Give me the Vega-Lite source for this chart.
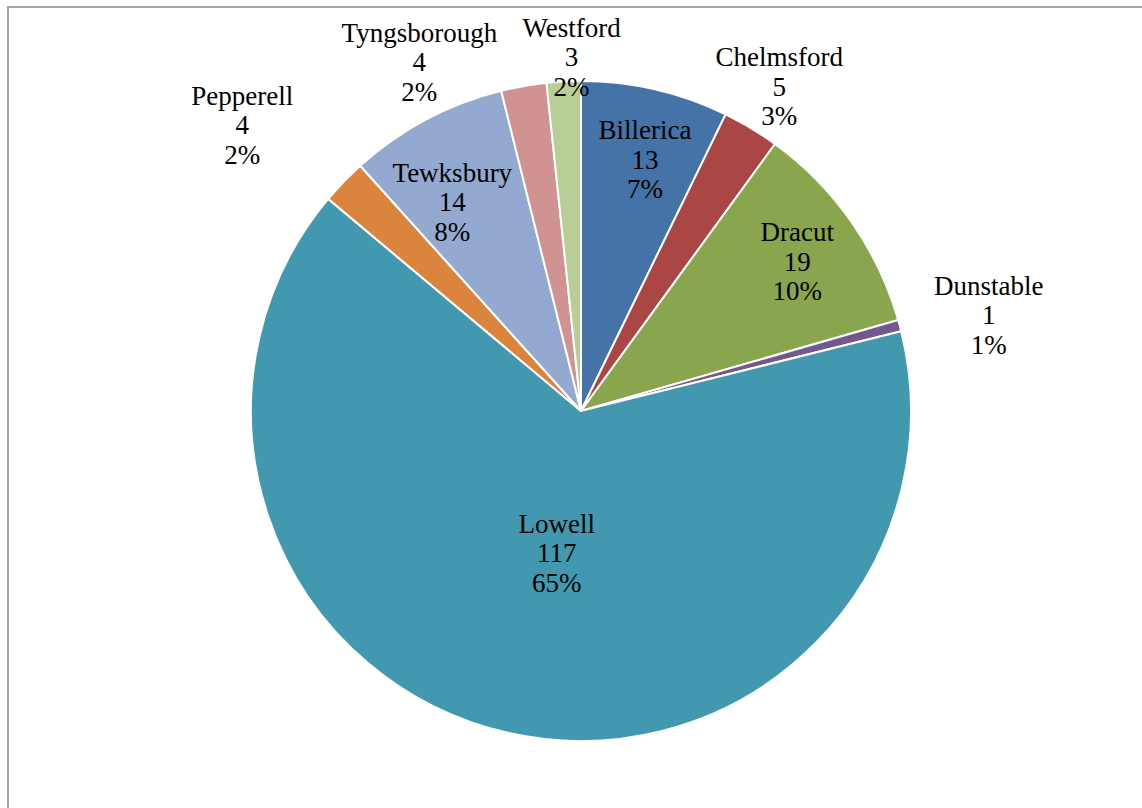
{
  "$schema": "https://vega.github.io/schema/vega-lite/v6.json",
  "width": 1146,
  "height": 808,
  "autosize": {"type": "none"},
  "padding": {"left": 8, "top": 7, "right": -12, "bottom": -7},
  "background": "white",
  "view": {"stroke": "#a6a6a6", "strokeWidth": 2, "fill": "white"},
  "config": {
    "text": {"font": "Liberation Serif", "fontSize": 27, "lineHeight": 29.5, "lineBreak": "\n", "fill": "#000000", "baseline": "middle", "align": "center"}
  },
  "data": {
    "values": [
      {"name": "Billerica", "value": 13, "pct": "7%"},
      {"name": "Chelmsford", "value": 5, "pct": "3%"},
      {"name": "Dracut", "value": 19, "pct": "10%"},
      {"name": "Dunstable", "value": 1, "pct": "1%"},
      {"name": "Lowell", "value": 117, "pct": "65%"},
      {"name": "Pepperell", "value": 4, "pct": "2%"},
      {"name": "Tewksbury", "value": 14, "pct": "8%"},
      {"name": "Tyngsborough", "value": 4, "pct": "2%"},
      {"name": "Westford", "value": 3, "pct": "2%"}
    ]
  },
  "transform": [
    {"calculate": "datum.name + '\\n' + datum.value + '\\n' + datum.pct", "as": "label"}
  ],
  "encoding": {
    "theta": {"field": "value", "type": "quantitative", "stack": true},
    "detail": {"field": "name", "type": "nominal"}
  },
  "layer": [
    {
      "mark": {"type": "arc", "radius": 330, "stroke": "white", "strokeWidth": 2},
      "encoding": {
        "color": {
          "field": "name", "type": "nominal", "legend": null,
          "scale": {
            "domain": ["Billerica", "Chelmsford", "Dracut", "Dunstable", "Lowell", "Pepperell", "Tewksbury", "Tyngsborough", "Westford"],
            "range": ["#4572A7", "#AA4643", "#89A54E", "#71588F", "#4198AF", "#DB843D", "#93A9CF", "#D19392", "#B9CD96"]
          }
        }
      }
    },
    {"mark": {"type": "text", "radius": 258, "dx": 6, "dy": -28.5},
     "encoding": {"text": {"condition": {"test": "datum.name === 'Billerica'", "field": "label", "type": "nominal"}, "value": ""}}},
    {"mark": {"type": "text", "radius": 377, "dx": 4, "dy": -29.5},
     "encoding": {"text": {"condition": {"test": "datum.name === 'Chelmsford'", "field": "label", "type": "nominal"}, "value": ""}}},
    {"mark": {"type": "text", "radius": 264, "dx": 0, "dy": -26.5},
     "encoding": {"text": {"condition": {"test": "datum.name === 'Dracut'", "field": "label", "type": "nominal"}, "value": ""}}},
    {"mark": {"type": "text", "radius": 420, "dx": 2, "dy": -15.5},
     "encoding": {"text": {"condition": {"test": "datum.name === 'Dunstable'", "field": "label", "type": "nominal"}, "value": ""}}},
    {"mark": {"type": "text", "radius": 148, "dx": 9, "dy": -30.5},
     "encoding": {"text": {"condition": {"test": "datum.name === 'Lowell'", "field": "label", "type": "nominal"}, "value": ""}}},
    {"mark": {"type": "text", "radius": 400, "dx": -51, "dy": -36.5},
     "encoding": {"text": {"condition": {"test": "datum.name === 'Pepperell'", "field": "label", "type": "nominal"}, "value": ""}}},
    {"mark": {"type": "text", "radius": 240, "dx": -16, "dy": -25.5},
     "encoding": {"text": {"condition": {"test": "datum.name === 'Tewksbury'", "field": "label", "type": "nominal"}, "value": ""}}},
    {"mark": {"type": "text", "radius": 355, "dx": -100, "dy": -27.5},
     "encoding": {"text": {"condition": {"test": "datum.name === 'Tyngsborough'", "field": "label", "type": "nominal"}, "value": ""}}},
    {"mark": {"type": "text", "radius": 353, "dx": 9, "dy": -29.5},
     "encoding": {"text": {"condition": {"test": "datum.name === 'Westford'", "field": "label", "type": "nominal"}, "value": ""}}}
  ]
}
